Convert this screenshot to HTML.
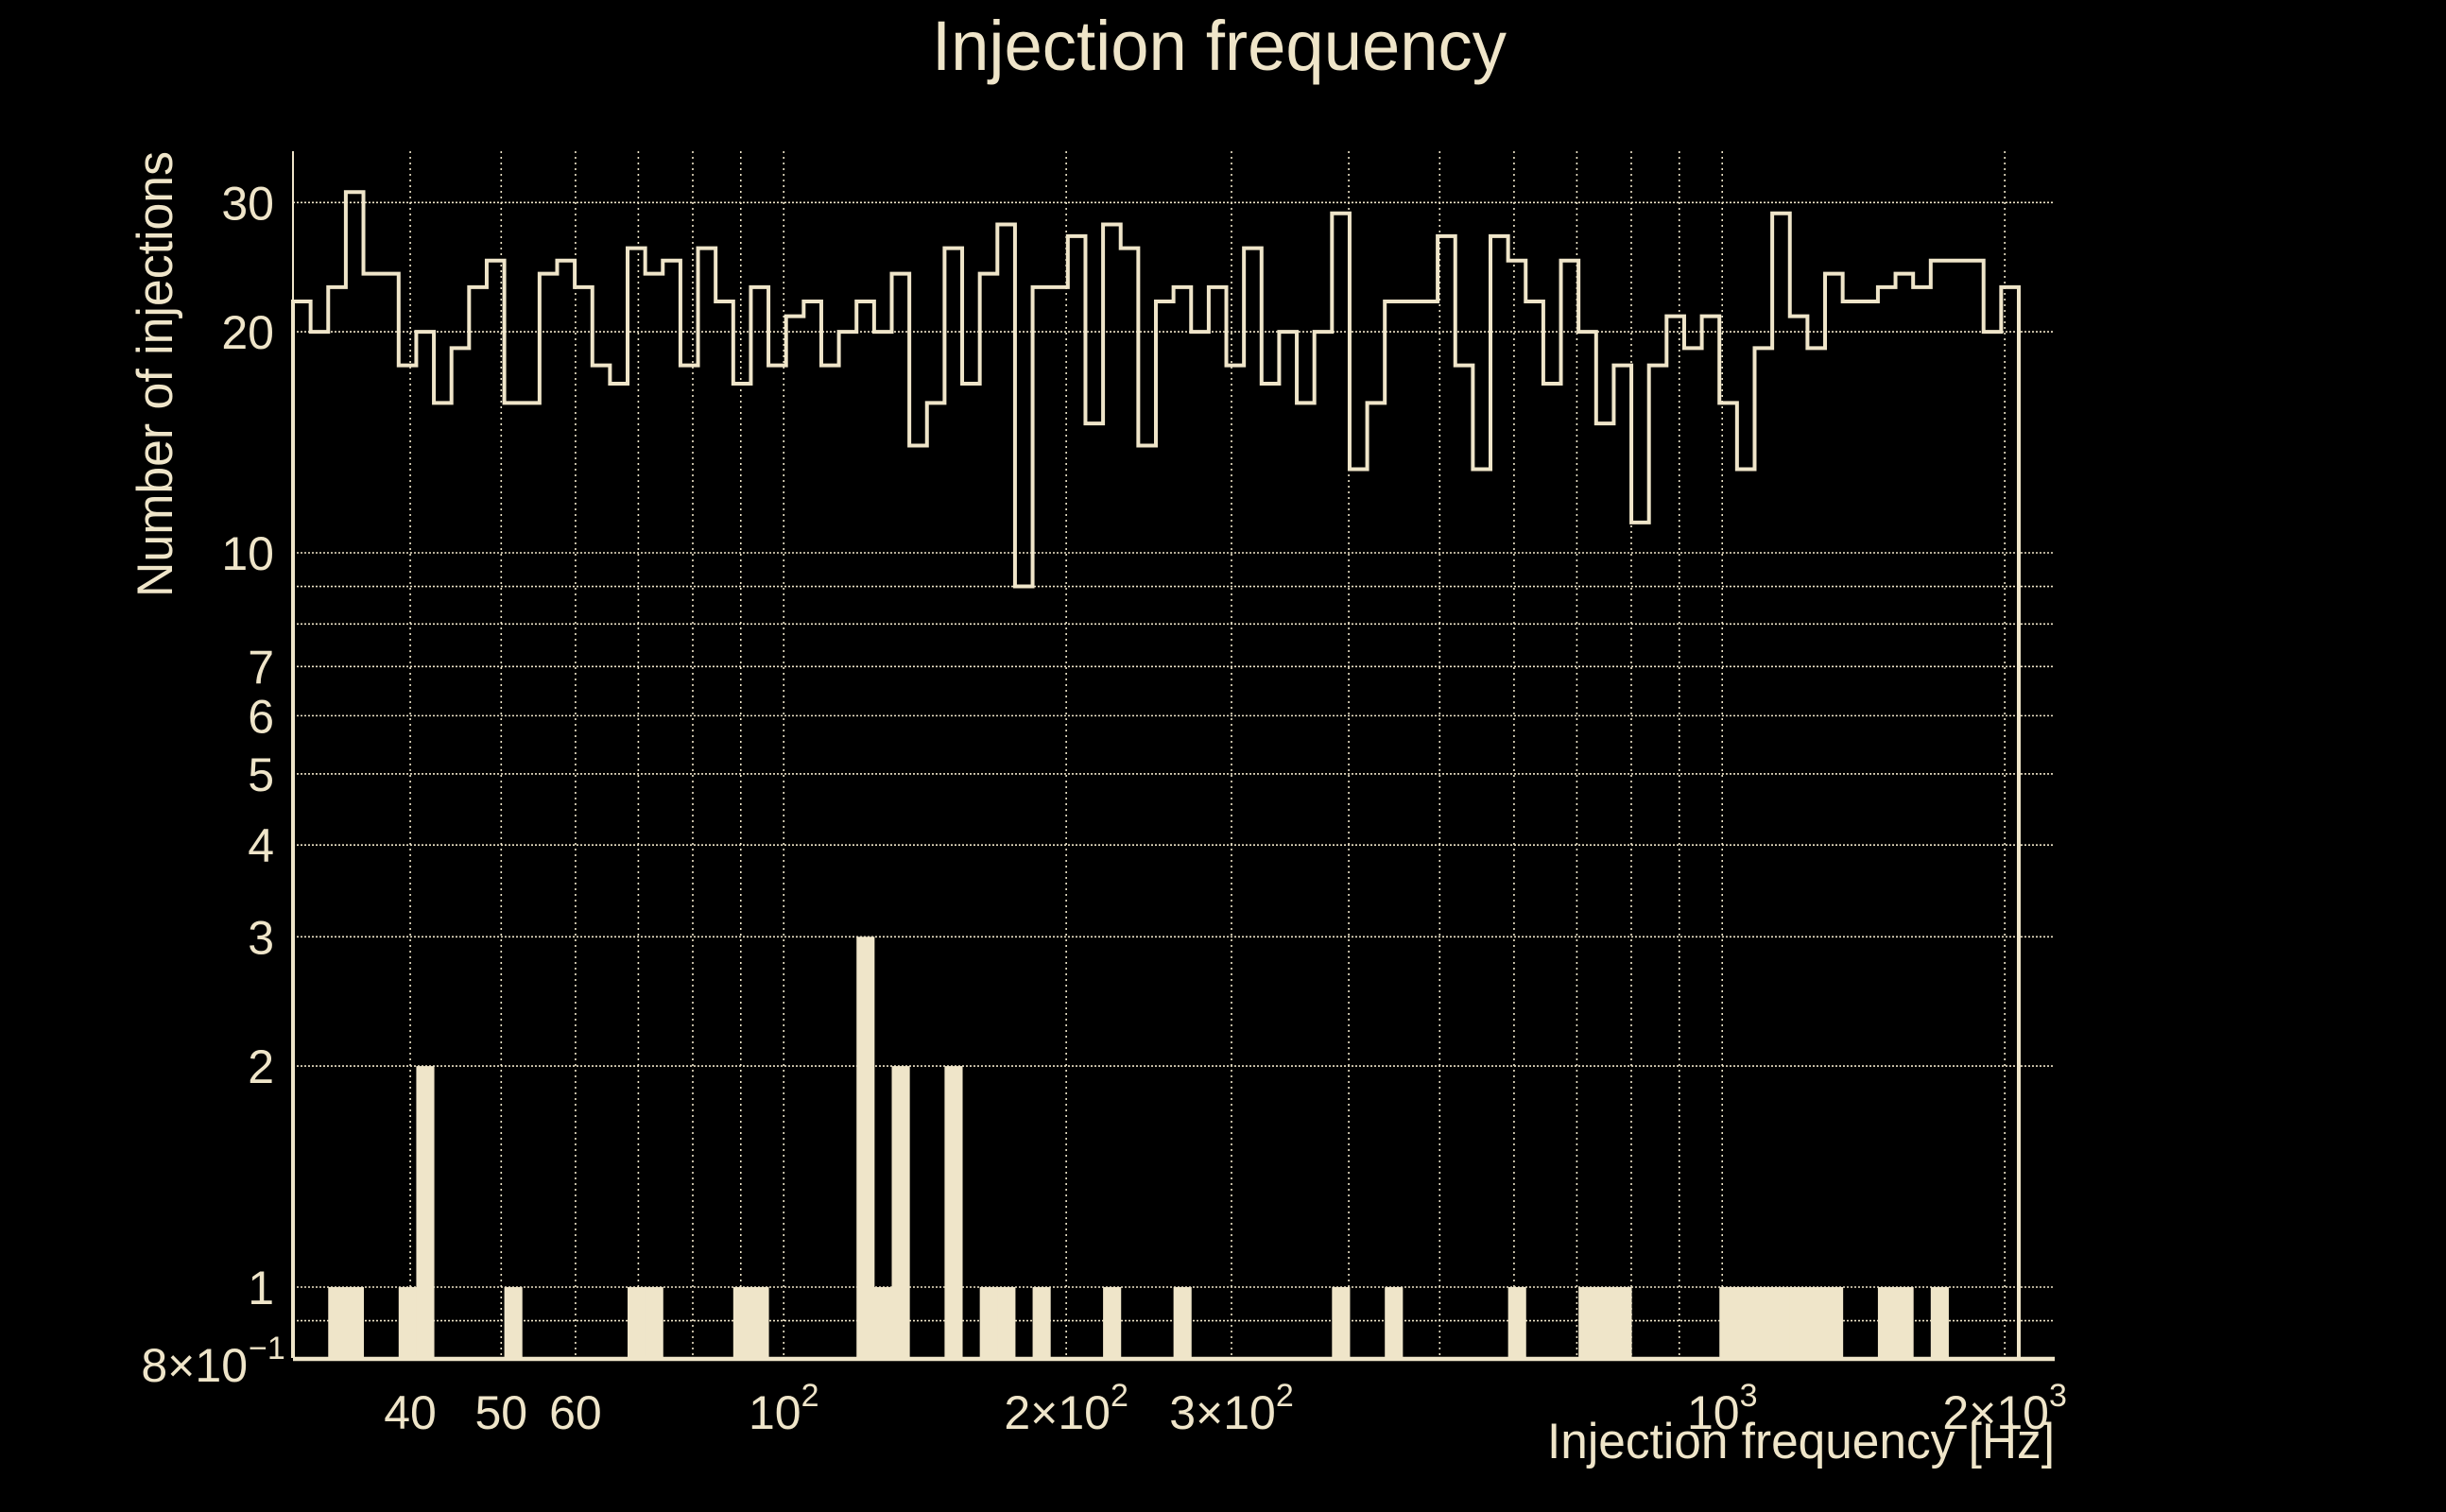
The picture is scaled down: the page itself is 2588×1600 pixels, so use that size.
<!DOCTYPE html>
<html><head><meta charset="utf-8"><title>Injection frequency</title>
<style>
html,body{margin:0;padding:0;background:#000;}
svg{display:block;}
text{font-family:"Liberation Sans",sans-serif;fill:#efe5c9;}
</style></head>
<body>
<svg id="chart" width="2588" height="1600" viewBox="0 0 2588 1600" xmlns="http://www.w3.org/2000/svg">
  <rect x="0" y="0" width="2588" height="1600" fill="#000"/>
  <g id="grid"></g>
  <g id="bars"></g>
  <g id="line"></g>
  <g id="axes"></g>
  <text x="986" y="74" font-size="74" textLength="608" lengthAdjust="spacingAndGlyphs">Injection frequency</text>
  <text x="1637" y="1543" font-size="53" textLength="537" lengthAdjust="spacingAndGlyphs">Injection frequency [Hz]</text>
  <text transform="translate(182,160) rotate(-90)" text-anchor="end" font-size="53" textLength="472" lengthAdjust="spacingAndGlyphs">Number of injections</text>
</svg>
<script>
// ---- data ----
const binLow = 30;
const binHigh = 2070;
const allCounts = [22,20,23,31,24,24,18,20,16,19,23,25,16,16,24,25,23,18,17,26,24,25,18,26,22,17,23,18,21,22,18,20,22,20,24,14,16,26,17,24,28,9,23,23,27,15,28,26,14,22,23,20,23,18,26,17,20,16,20,29,13,16,22,22,22,27,18,13,27,25,22,17,25,20,15,18,11,18,21,19,21,16,13,19,29,21,19,24,22,22,23,24,23,25,25,25,20,23];
const vetoCounts = [0,0,1,1,0,0,1,2,0,0,0,0,1,0,0,0,0,0,0,1,1,0,0,0,0,1,1,0,0,0,0,0,3,1,2,0,0,2,0,1,1,0,1,0,0,0,1,0,0,0,1,0,0,0,0,0,0,0,0,1,0,0,1,0,0,0,0,0,0,1,0,0,0,1,1,1,0,0,0,0,0,1,1,1,1,1,1,1,0,0,1,1,0,1,0,0,0,0];
const yGridValues = [30,20,10,9,8,7,6,5,4,3,2,1,0.9];
const yTickValues = [30,20,10,7,6,5,4,3,2,1];
const xGridValues = [40,50,60,70,80,90,100,200,300,400,500,600,700,800,900,1000,2000];
const xTickValues = [40,50,60,100,200,300,1000,2000];
const xTickBase = ["40","50","60","10","2\u00d710","3\u00d710","10","2\u00d710"];
const xTickExp = ["","","","2","2","2","3","3"];

// ---- scales ----
const X0 = 310, XR = 2174, YT = 160, YB = 1437;
const xMinV = 30, pxPerDecX = 993;
const yRefV = 10, yRefPx = 585, pxPerDecY = 777;
const C = '#efe5c9';
function xs(v){ return X0 + (Math.log10(v) - Math.log10(xMinV)) * pxPerDecX; }
function ys(v){ return yRefPx + (Math.log10(yRefV) - Math.log10(v)) * pxPerDecY; }
const NS = 'http://www.w3.org/2000/svg';
function mk(tag, attrs, parent){
  const e = document.createElementNS(NS, tag);
  for (const k in attrs) e.setAttribute(k, attrs[k]);
  parent.appendChild(e); return e;
}
const nb = allCounts.length;
function edge(i){ return binLow * Math.pow(binHigh/binLow, i/nb); }

// grid
const grid = document.getElementById('grid');
yGridValues.forEach(v => {
  const l = mk('line', {x1:X0, x2:XR, y1:ys(v), y2:ys(v), stroke:C, 'stroke-width':1.6, 'stroke-dasharray':'2 2'}, grid);
  
  
});
xGridValues.forEach(v => {
  const l = mk('line', {x1:xs(v), x2:xs(v), y1:YT, y2:YB, stroke:C, 'stroke-width':1.6, 'stroke-dasharray':'2 4'}, grid);
  
  
});

// veto bars
const bars = document.getElementById('bars');
vetoCounts.forEach((v, i) => {
  if (v <= 0) return;
  const xa = xs(edge(i)), xb = xs(edge(i+1));
  const r = mk('rect', {x:xa, y:ys(v), width:xb-xa+0.5, height:YB-ys(v), fill:C}, bars);
  
  
});

// step line
let d = 'M' + xs(edge(0)) + ' ' + YB;
allCounts.forEach((v, i) => {
  d += ' L' + xs(edge(i)) + ' ' + ys(v) + ' L' + xs(edge(i+1)) + ' ' + ys(v);
});
d += ' L' + xs(edge(nb)) + ' ' + YB;
const p = mk('path', {d:d, fill:'none', stroke:C, 'stroke-width':4, 'stroke-linejoin':'miter'}, document.getElementById('line'));



// axes
const axes = document.getElementById('axes');
const ya = mk('line', {x1:X0, x2:X0, y1:YT, y2:YB, stroke:C, 'stroke-width':2}, axes);


const xa = mk('line', {x1:X0, x2:XR, y1:YB+1, y2:YB+1, stroke:C, 'stroke-width':4.5}, axes);



yTickValues.forEach(v => {
  const t = mk('text', {x:290, y:ys(v)+18, 'font-size':50, 'text-anchor':'end'}, axes);
  t.textContent = String(v);
  
  
});
const yb = mk('text', {x:262, y:1462, 'font-size':50, 'text-anchor':'end'}, axes);
yb.textContent = '8\u00d710';


const ybe = mk('text', {x:263, y:1438, 'font-size':34}, axes);
ybe.textContent = '\u22121';



xTickValues.forEach((v, i) => {
  const g = mk('text', {x:xs(v), y:1512, 'font-size':50, 'text-anchor':'middle'}, axes);
  
  
  const s1 = mk('tspan', {}, g);
  s1.textContent = xTickBase[i];
  if (xTickExp[i]) {
    const s2 = mk('tspan', {'font-size':34, dy:-24}, g);
    s2.textContent = xTickExp[i];
  }
});
</script>
</body></html>
